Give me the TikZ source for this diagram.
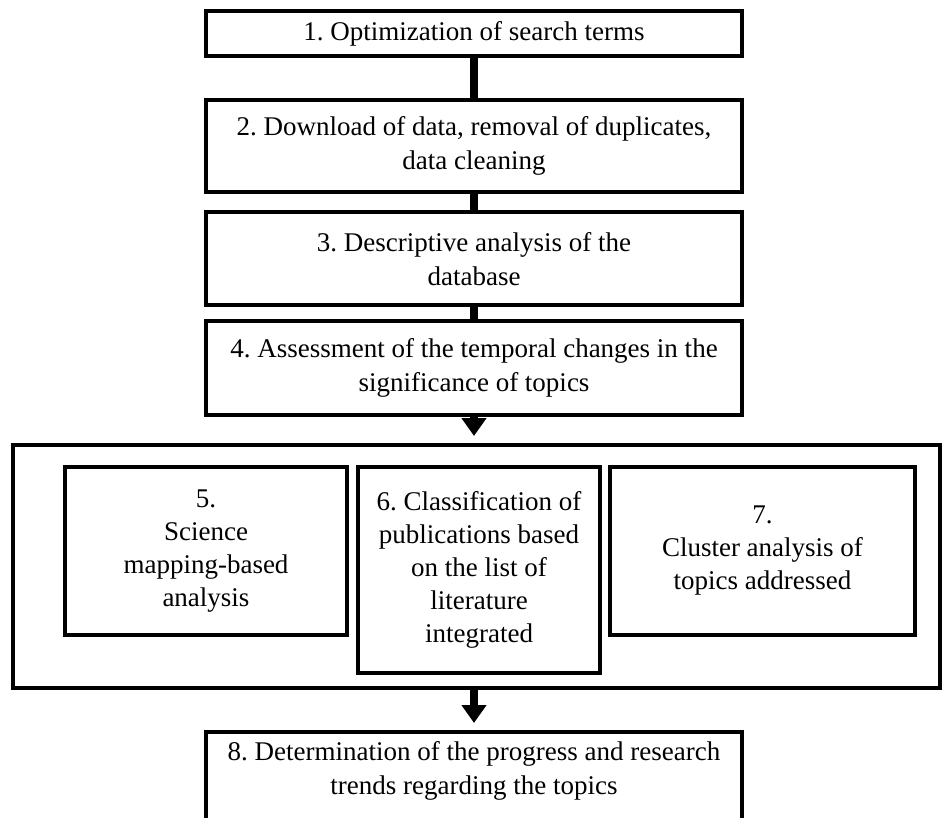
\documentclass[tikz,border=0pt]{standalone}
\usepackage{fontspec}
\setmainfont{Liberation Serif}
\usetikzlibrary{arrows.meta,positioning}
\frenchspacing

\begin{document}
\begin{tikzpicture}[x=1pt,y=-1pt,
		stepbox/.style={draw,line width=4pt,minimum width=536pt,align=center,inner sep=0pt,font=\fontsize{27}{34}\selectfont},
		subbox/.style={draw,line width=4pt,align=center,inner sep=0pt,font=\fontsize{27}{33}\selectfont},
		link/.style={line width=8pt},
		flow/.style={line width=8pt,-{Triangle[width=24pt,length=18pt]},shorten >=7pt}]
		\useasboundingbox (0,0) rectangle (943,818);
		% main steps
		\node[stepbox,minimum height=45pt] (s1) at (474,34) {1. Optimization of search terms};
		\node[stepbox,minimum height=92pt] (s2) at (474,146) {2. Download of data, removal of duplicates,\\data cleaning};
		\node[stepbox,minimum height=93pt] (s3) at (474,259) {3. Descriptive analysis of the\\database};
		\node[stepbox,minimum height=94pt] (s4) at (474,368) {4. Assessment of the temporal changes in the\\significance of topics};
		% analysis block
		\node[draw,line width=4pt,minimum width=927pt,minimum height=243pt] (block) at (476.5,566.5) {};
		\node[subbox,minimum width=282pt,minimum height=168pt] (s5) at (206,551) {5.\\Science\\mapping-based\\analysis};
		\node[subbox,minimum width=242pt,minimum height=206pt] (s6) at (479,570) {6. Classification of\\publications based\\on the list of\\literature\\integrated};
		\node[subbox,minimum width=305pt,minimum height=168pt] (s7) at (762.5,551) {7.\\Cluster analysis of\\topics addressed};
		\node[stepbox,anchor=north,inner sep=9pt,text depth=100pt] (s8) at (474,730) {8. Determination of the progress and research\\trends regarding the topics};
		\draw[link] (s1) -- (s2);
		\draw[link] (s2) -- (s3);
		\draw[link] (s3) -- (s4);
		\draw[flow] (s4.south) -- (block.north -| s4.south);
		\draw[flow] (block.south -| s8.north) -- (s8.north);
\end{tikzpicture}
\end{document}
